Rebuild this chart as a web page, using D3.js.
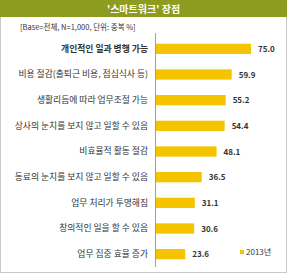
<!DOCTYPE html>
<meta charset="utf-8">
<style>
  body { margin: 0; background: #fff; }
  text { font-family: "Noto Sans CJK KR", sans-serif; }
</style>
<div class="chart"></div>
<script src="https://cdnjs.cloudflare.com/ajax/libs/d3/7.8.5/d3.min.js"></script>
<script>
  // chart data
  var categories = [
    "개인적인 일과 병행 가능",
    "비용 절감(출퇴근 비용, 점심식사 등)",
    "생활리듬에 따라 업무조절 가능",
    "상사의 눈치를 보지 않고 일할 수 있음",
    "비효율적 활동 절감",
    "동료의 눈치를 보지 않고 일할 수 있음",
    "업무 처리가 투명해짐",
    "창의적인 일을 할 수 있음",
    "업무 집중 효율 증가"
  ];
  var values2013 = [75.0, 59.9, 55.2, 54.4, 48.1, 36.5, 31.1, 30.6, 23.6];
  var seriesName = "2013년";
  var title = "'스마트워크' 장점";
  var subtitle = "[Base=전체, N=1,000, 단위: 중복 %]";

  var W = 287, H = 273;
  var svg = d3.select(".chart").append("svg")
      .attr("width", W).attr("height", H);

  // outer frame
  svg.append("rect").attr("x", 0.5).attr("y", 0.5)
      .attr("width", W - 1).attr("height", H - 1)
      .attr("fill", "#fff").attr("stroke", "#c8c8c8");

  // title bar
  svg.append("rect").attr("x", 0).attr("y", 0)
      .attr("width", W).attr("height", 17).attr("fill", "#8d9b1e");
  svg.append("text").attr("x", W / 2).attr("y", 12.5)
      .attr("text-anchor", "middle").attr("fill", "#fff")
      .attr("font-size", "10px").attr("font-weight", "bold")
      .text(title);

  svg.append("text").attr("x", 20).attr("y", 30)
      .attr("fill", "#333").attr("font-size", "7.5px")
      .text(subtitle);

  var x0 = 155;
  var x = d3.scaleLinear().domain([0, 75]).range([x0, 251]);
  var y = d3.scaleBand().domain(categories).range([36, 267]).paddingInner(0.6).paddingOuter(0.3);

  // bars
  svg.selectAll("rect.bar").data(values2013).enter().append("rect")
      .attr("class", "bar")
      .attr("x", x0)
      .attr("y", function(d, i) { return y(categories[i]); })
      .attr("width", function(d) { return x(d) - x0; })
      .attr("height", y.bandwidth())
      .attr("fill", "#f5c400");

  // value labels
  svg.selectAll("text.val").data(values2013).enter().append("text")
      .attr("class", "val")
      .attr("x", function(d) { return x(d) + 7; })
      .attr("y", function(d, i) { return y(categories[i]) + y.bandwidth() / 2 + 3; })
      .attr("font-size", "8px").attr("font-weight", "bold").attr("fill", "#333")
      .text(function(d) { return d.toFixed(1); });

  // category axis
  var yAxis = d3.axisLeft(y).tickSize(0).tickPadding(7);
  var ga = svg.append("g").attr("transform", "translate(" + x0 + ",0)").call(yAxis);
  ga.select(".domain").attr("stroke", "#a0a0a0").attr("d", "M0.5,33V267");
  ga.selectAll("text")
      .attr("font-size", "8.8px").attr("fill", "#333")
      .attr("font-family", "'Noto Sans CJK KR', sans-serif")
      .attr("font-weight", function(d, i) { return i === 0 ? "bold" : "normal"; });

  // legend
  var lg = svg.append("g").attr("transform", "translate(240,254)");
  lg.append("rect").attr("x", 0).attr("y", -4).attr("width", 4).attr("height", 4).attr("fill", "#f5c400");
  lg.append("text").attr("x", 6).attr("y", 1)
      .attr("font-size", "8px").attr("fill", "#333").text(seriesName);
</script>
